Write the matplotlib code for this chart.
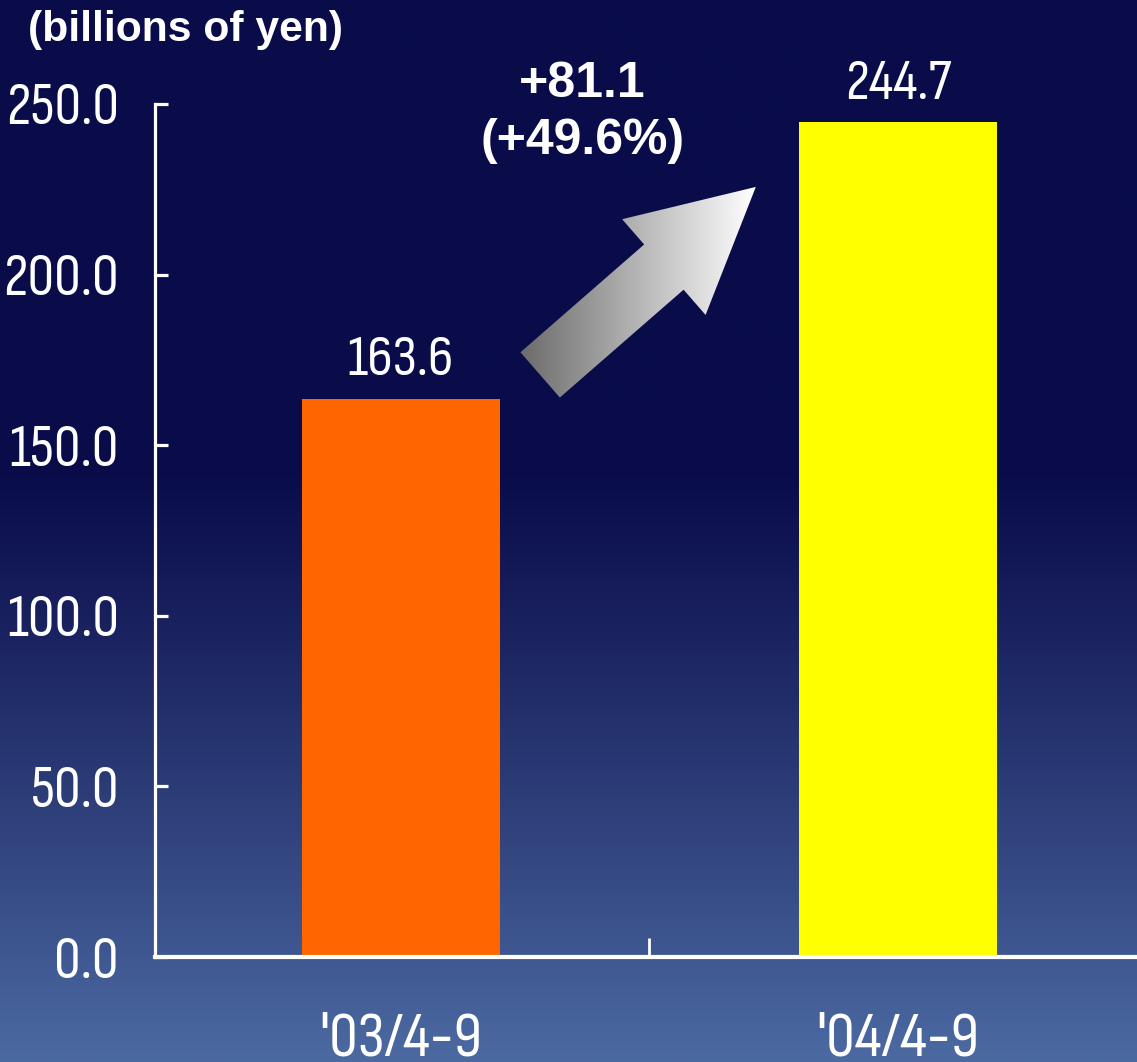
import numpy as np
import matplotlib
matplotlib.use('Agg')
import matplotlib.pyplot as plt
from matplotlib.patches import Polygon
from matplotlib import font_manager
from matplotlib.textpath import TextPath

# Data
periods = ["'03/4-9", "'04/4-9"]
values = [163.6, 244.7]
bar_colors = ['#ff6600', '#ffff00']
yticks = [0, 50, 100, 150, 200, 250]
change_text = '+81.1\n(+49.6%)'


def pick_number_font():
    # pick an upright sans face whose digits are about as tall/narrow as wanted
    target = 2.65
    families = ('sans', 'roboto', 'inter', 'lato')
    best, best_err = None, None
    for f in font_manager.fontManager.ttflist:
        nm = f.name.lower()
        if not any(k in nm for k in families):
            continue
        if f.style != 'normal' or 'mono' in nm or 'cjk' in nm or 'serif' in nm.replace('sans', ''):
            continue
        if f.weight not in (400, 500, 'normal', 'regular', 'medium'):
            continue
        try:
            prop = font_manager.FontProperties(fname=f.fname)
            ext = TextPath((0, 0), '250.0', size=100, prop=prop).get_extents()
            cap = TextPath((0, 0), 'H', size=100, prop=prop).get_extents()
        except Exception:
            continue
        if ext.height <= 0 or ext.height < 0.9 * cap.height:
            continue
        err = abs(ext.width / ext.height - target)
        if best_err is None or err < best_err:
            best, best_err = (f.fname, ext.width / 100, ext.height / 100), err
    return best


fname, w_em, h_em = pick_number_font()


def num_font(cap_px, max_w_px):
    # size in points such that the digits reach cap_px tall, limited by width
    px = min(cap_px / h_em, max_w_px / w_em)
    return font_manager.FontProperties(fname=fname, size=px * 0.72)


W, H = 1137, 1062
fig = plt.figure(figsize=(W / 100, H / 100), dpi=100)

# Background gradient: deep navy on top, fading to steel blue at the bottom
bg = fig.add_axes([0, 0, 1, 1], zorder=0)
yy = np.linspace(0, 1, 400)  # 0 = top, 1 = bottom
top = np.array([10, 12, 74]) / 255
bottom = np.array([76, 106, 162]) / 255
t = np.clip((yy - 0.44) / (1 - 0.44), 0, 1) ** 1.1
grad = top[None, :] * (1 - t[:, None]) + bottom[None, :] * t[:, None]
bg.imshow(grad[:, None, :], aspect='auto', extent=[0, 1, 1, 0])
bg.set_xlim(0, 1)
bg.set_ylim(1, 0)
bg.axis('off')

ax = fig.add_axes([155 / W, 1 - 957 / H, (W - 155) / W, (957 - 104) / H], zorder=1)
ax.patch.set_alpha(0)

x = np.arange(len(periods))
bars = ax.bar(x, values, width=0.4, color=bar_colors, zorder=2)

ax.set_xlim(-0.495, 1.481)
ax.set_ylim(0, 250)

for s in ['top', 'right']:
    ax.spines[s].set_visible(False)
ax.spines['left'].set_color('white')
ax.spines['left'].set_linewidth(2.3)
ax.spines['bottom'].set_color('white')
ax.spines['bottom'].set_linewidth(3)
ax.spines['bottom'].set_zorder(3)

tick_fp = num_font(40, 112)
ax.set_yticks(yticks)
ax.set_yticklabels([f'{v:.1f}' for v in yticks])
ax.tick_params(axis='y', direction='in', length=9.5, width=2.3, colors='white', pad=26)
ax.set_xticks(x)
ax.set_xticklabels(periods)
ax.set_xticks([0.5], minor=True)
ax.tick_params(axis='x', which='major', length=0, colors='white', pad=39)
ax.tick_params(axis='x', which='minor', direction='in', length=14, width=2, color='white')
for lbl in ax.get_yticklabels():
    lbl.set_fontproperties(tick_fp)
for lbl in ax.get_xticklabels():
    lbl.set_fontproperties(num_font(43, 118))

# Value labels above the bars
for xi, v in zip(x, values):
    ax.annotate(f'{v:.1f}', (xi, v), xytext=(0, 9), textcoords='offset points',
                ha='center', va='bottom', color='white', fontproperties=num_font(42, 104))

# Unit label
fig.text(28 / W, 1 - 30 / H, '(billions of yen)', color='white', fontsize=30.7,
         fontweight='bold', family=['Liberation Sans', 'DejaVu Sans'], va='center')

# Change annotation
ax.text(0.365, 247.5, change_text, color='white', fontsize=36, fontweight='bold',
        ha='center', va='center', linespacing=1.3,
        family=['Liberation Sans', 'DejaVu Sans'], zorder=4)

# Gradient arrow from the first bar towards the second
fig.canvas.draw()
tail = ax.transData.transform((0.28, 170.6))
tip = ax.transData.transform((0.714, 225.7))
d = tip - tail
u = d / np.hypot(*d)
n = np.array([-u[1], u[0]])
shaft_w, head_w, head_len = 60, 127, 122
base = tip - u * head_len
pts_px = np.array([
    tail + n * shaft_w / 2,
    base + n * shaft_w / 2,
    base + n * head_w / 2,
    tip,
    base - n * head_w / 2,
    base - n * shaft_w / 2,
    tail - n * shaft_w / 2,
])
pts = ax.transData.inverted().transform(pts_px)
arrow = Polygon(pts, closed=True, facecolor='none', edgecolor='none', zorder=4)
ax.add_patch(arrow)
xmin, xmax = pts[:, 0].min(), pts[:, 0].max()
ymin, ymax = pts[:, 1].min(), pts[:, 1].max()
shade = np.linspace(0.42, 1.0, 256)[None, :]
im = ax.imshow(shade, cmap='gray', vmin=0, vmax=1, aspect='auto',
               extent=[xmin, xmax, ymin, ymax], zorder=4, interpolation='bilinear')
im.set_clip_path(arrow)
ax.set_xlim(-0.495, 1.481)
ax.set_ylim(0, 250)

fig.savefig('out.png', dpi=100)
